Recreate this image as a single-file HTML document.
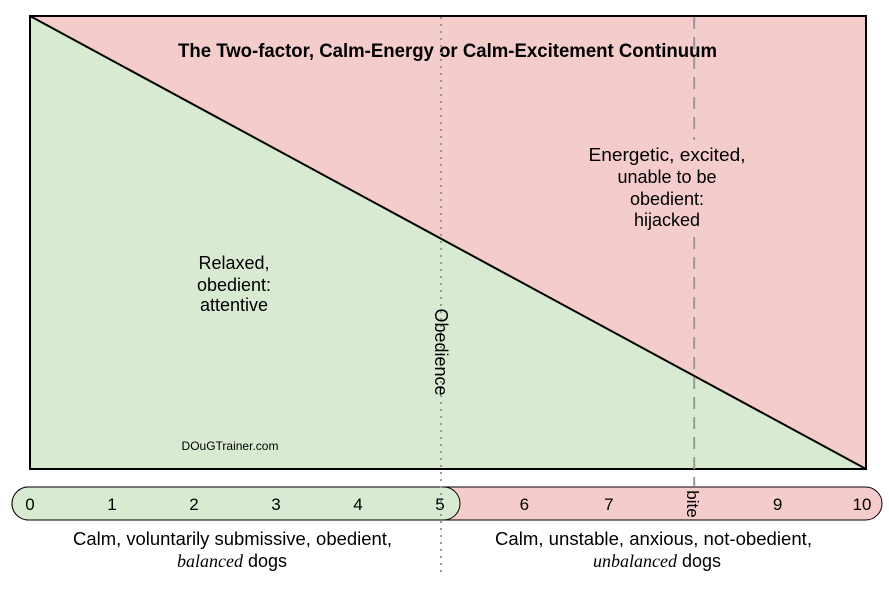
<!DOCTYPE html>
<html><head><meta charset="utf-8"><style>
body{margin:0;background:#fff;}
svg{display:block;font-family:"Liberation Sans",Arial,sans-serif;}
</style></head><body>
<svg id="chart" width="889" height="590" viewBox="0 0 889 590" xmlns="http://www.w3.org/2000/svg">
  <polygon points="30,16 30,469 866,469" fill="#d9ead3"/>
  <polygon points="30,16 866,16 866,469" fill="#f4cccc"/>
  <line x1="30" y1="16" x2="866" y2="469" stroke="#000" stroke-width="2"/>
  <rect x="30" y="16" width="836" height="453" fill="none" stroke="#000" stroke-width="2"/>
  <text x="178" y="57" font-size="19" font-weight="bold" textLength="539" lengthAdjust="spacingAndGlyphs">The Two-factor, Calm-Energy or Calm-Excitement Continuum</text>
  <g font-size="18" text-anchor="middle">
    <text x="667" y="161" textLength="157" lengthAdjust="spacingAndGlyphs">Energetic, excited,</text>
    <text x="667" y="183">unable to be</text>
    <text x="667" y="205">obedient:</text>
    <text x="667" y="226">hijacked</text>
  </g>
  <g font-size="18" text-anchor="middle">
    <text x="234" y="269">Relaxed,</text>
    <text x="234" y="291">obedient:</text>
    <text x="234" y="311">attentive</text>
  </g>
  <text x="230" y="450" text-anchor="middle" font-size="12">DOuGTrainer.com</text>
  <g id="scale"></g>
  <g font-size="18">
    <text x="73" y="545" textLength="319" lengthAdjust="spacingAndGlyphs">Calm, voluntarily submissive, obedient,</text>
    <text x="232" y="567" text-anchor="middle"><tspan font-family="Liberation Serif,serif" font-style="italic">balanced</tspan> dogs</text>
    <text x="495" y="545" textLength="317" lengthAdjust="spacingAndGlyphs">Calm, unstable, anxious, not-obedient,</text>
    <text x="657" y="567" text-anchor="middle"><tspan font-family="Liberation Serif,serif" font-style="italic">unbalanced</tspan> dogs</text>
  </g>
</svg>
<script>
const ticks = ["0","1","2","3","4","5","6","7","bite","9","10"];
const obedienceValue = 5;
const biteValue = 8;
function xs(v){ return v <= 5 ? 30 + 82 * v : 440 + 84.4 * (v - 5); }
const NS = "http://www.w3.org/2000/svg";
const svg = document.getElementById('chart');
const g = document.getElementById('scale');
function mk(tag, attrs, parent){ const e = document.createElementNS(NS, tag); for (const k in attrs) e.setAttribute(k, attrs[k]); (parent||g).appendChild(e); return e; }
const split = xs(obedienceValue);
const pinkPill = mk('rect', {x:12, y:487, width:870, height:33, rx:16.5, fill:'#f4cccc', stroke:'#000', 'stroke-width':1});


const greenPill = mk('rect', {x:12, y:487, width:split + 20 - 12, height:33, rx:16.5, fill:'#d9ead3', stroke:'#000', 'stroke-width':1});


ticks.forEach((t, i) => {
  const x = xs(i);
  let el;
  if (t === 'bite') {
    el = mk('text', {x:0, y:0, 'font-size':17, 'text-anchor':'middle', transform:'translate(' + (x - 6) + ',504) rotate(90)'});
  } else {
    el = mk('text', {x:x, y:510, 'font-size':17, 'text-anchor':'middle'});
  }
  el.textContent = t;
  
  
});
const ob = mk('line', {x1:split + 1, y1:17, x2:split + 1, y2:576, stroke:'#999', 'stroke-width':2, 'stroke-dasharray':'2,5'}, svg);


const obt = mk('text', {x:0, y:0, 'font-size':18, 'text-anchor':'middle', transform:'translate(' + (split - 5) + ',352) rotate(90)'}, svg);
obt.textContent = 'Obedience';


const bx = xs(biteValue) + 1;
const b1 = mk('line', {x1:bx, y1:17, x2:bx, y2:140, stroke:'#999', 'stroke-width':2, 'stroke-dasharray':'12,8'}, svg);


const b2 = mk('line', {x1:bx, y1:237, x2:bx, y2:486, stroke:'#999', 'stroke-width':2, 'stroke-dasharray':'12,8'}, svg);


</script>
</body></html>
